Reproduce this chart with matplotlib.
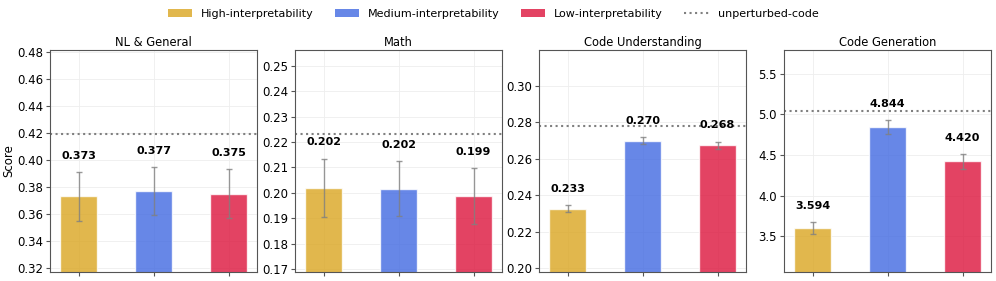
import numpy as np
import matplotlib.pyplot as plt
from matplotlib.patches import Patch
from matplotlib.lines import Line2D

# panel data
titles = ['NL & General', 'Math', 'Code Understanding', 'Code Generation']
groups = ['High-interpretability', 'Medium-interpretability', 'Low-interpretability']
colors = ['goldenrod', 'royalblue', 'crimson']

means = [
    [0.373, 0.377, 0.375],
    [0.202, 0.2017, 0.1987],
    [0.2325, 0.270, 0.2675],
    [3.594, 4.844, 4.420],
]
errs = [
    [0.018, 0.018, 0.018],
    [0.0115, 0.011, 0.011],
    [0.002, 0.002, 0.002],
    [0.075, 0.09, 0.09],
]
labels = [
    ['0.373', '0.377', '0.375'],
    ['0.202', '0.202', '0.199'],
    ['0.233', '0.270', '0.268'],
    ['3.594', '4.844', '4.420'],
]
unperturbed = [0.4195, 0.2233, 0.278, 5.043]
ylims = [(0.317, 0.4815), (0.1688, 0.2563), (0.1978, 0.3198), (3.056, 5.796)]
yticks = [
    [0.32, 0.34, 0.36, 0.38, 0.40, 0.42, 0.44, 0.46, 0.48],
    [0.17, 0.18, 0.19, 0.20, 0.21, 0.22, 0.23, 0.24, 0.25],
    [0.20, 0.22, 0.24, 0.26, 0.28, 0.30],
    [3.5, 4.0, 4.5, 5.0, 5.5],
]
yfmt = ['{:.2f}', '{:.2f}', '{:.2f}', '{:.1f}']

fig = plt.figure(figsize=(9.96, 2.81), dpi=100)
lefts = [50, 295, 539, 784]
x = np.arange(3)

for i in range(4):
    ax = fig.add_axes([lefts[i] / 996, 9 / 281, 207 / 996, 222 / 281])
    ax.bar(x, means[i], width=0.5, color=colors, alpha=0.8,
           edgecolor='white', linewidth=1, zorder=2)
    ax.errorbar(x, means[i], yerr=errs[i], fmt='none', ecolor='grey',
                elinewidth=1, capsize=2, capthick=1, alpha=0.8, zorder=3)
    for j in range(3):
        ax.annotate(labels[i][j], (x[j], means[i][j] + errs[i][j]),
                    xytext=(0, 8), textcoords='offset points',
                    ha='center', va='bottom', fontsize=8, fontweight='bold')
    ax.axhline(unperturbed[i], color='grey', linestyle=':', linewidth=1.5, zorder=1)
    ax.set_xlim(-0.38, 2.38)
    ax.set_ylim(*ylims[i])
    ax.set_yticks(yticks[i])
    ax.set_yticklabels([yfmt[i].format(v) for v in yticks[i]], fontsize=8.5)
    ax.set_xticks(x)
    ax.set_xticklabels([])
    ax.set_title(titles[i], fontsize=8.3, pad=3)
    ax.grid(True, color='#eeeeee', linewidth=0.6, zorder=0)
    ax.set_axisbelow(True)
    for s in ax.spines.values():
        s.set_color('#555555')
    ax.tick_params(color='#555555', length=3, pad=2)
    if i == 0:
        ax.set_ylabel('Score', fontsize=8.5, labelpad=1)

handles = [Patch(facecolor=c, alpha=0.8, label=g) for c, g in zip(colors, groups)]
handles.append(Line2D([0], [0], color='grey', linestyle=':', linewidth=1.5,
                      label='unperturbed-code'))
fig.legend(handles=handles, loc='center', bbox_to_anchor=(0.495, 0.95), ncol=4,
           frameon=False, fontsize=8, columnspacing=1.9, handlelength=2.2)

fig.savefig('out.png', dpi=100)
